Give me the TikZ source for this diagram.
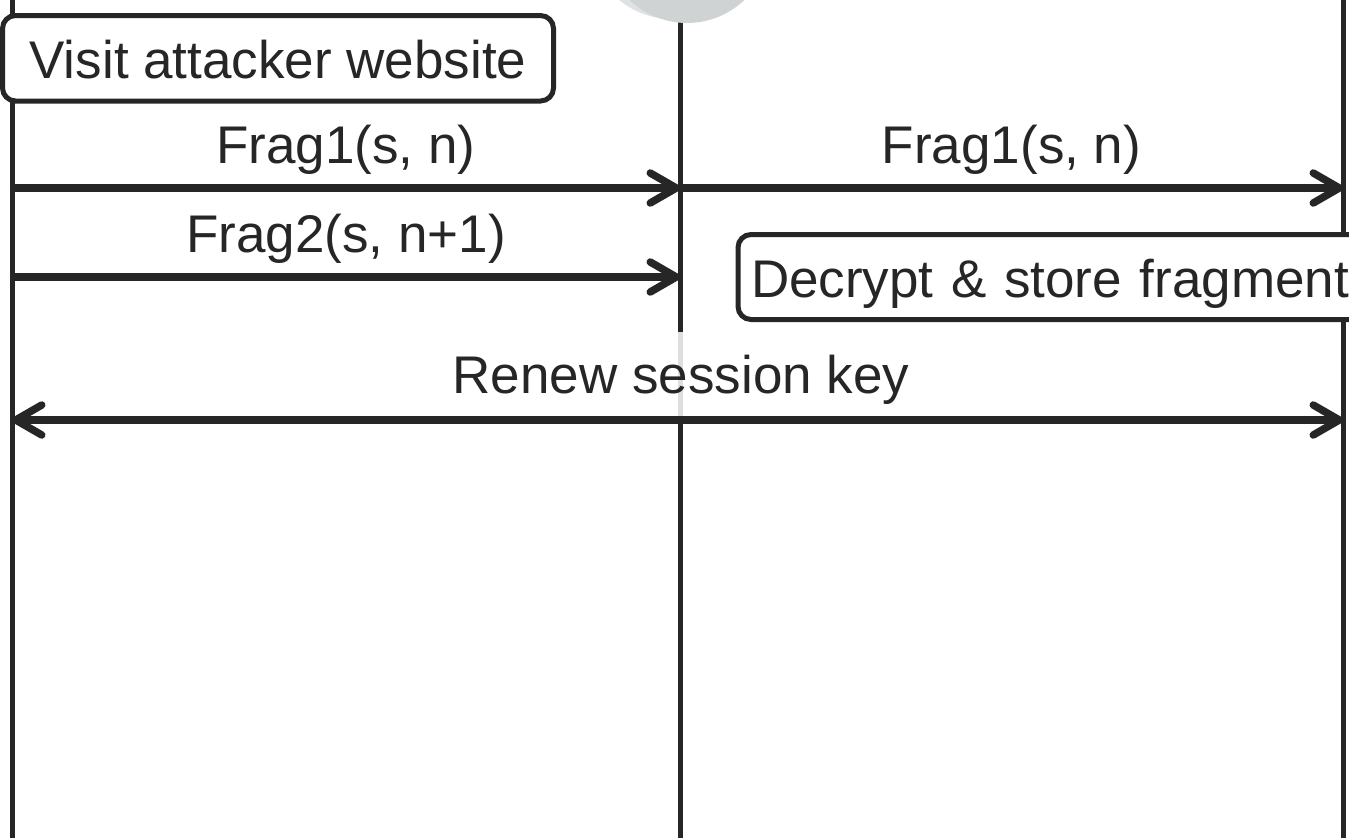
\documentclass[tikz,border=0pt]{standalone}
\usepackage{fontspec}
\setmainfont{Liberation Sans}
\usetikzlibrary{arrows.meta}
\definecolor{ink}{HTML}{262626}
\definecolor{headdark}{HTML}{CFD3D4}
\definecolor{headlight}{HTML}{DFE2E2}
\begin{document}
\begin{tikzpicture}[x=1pt,y=-1pt,
  lifeline/.style={draw=ink,line width=5pt},
  barb/.tip={Straight Barb[length=26pt,width=30pt,round]},
  msg/.style={draw=ink,line width=7.5pt,-barb},
  dmsg/.style={draw=ink,line width=7.5pt,barb-barb},
  txt/.style={text=ink,font=\fontsize{53}{60}\selectfont,inner sep=0pt},
  notebox/.style={txt,draw=ink,line width=5pt,fill=white,rounded corners=13pt,
    outer sep=0pt,text height=40pt,text depth=0pt}
]
\useasboundingbox (0,0) rectangle (1349,838);
\clip (0,0) rectangle (1349,838);
% lifelines
\coordinate (Atop) at (12,0);     \coordinate (Abot) at (12,838);
\coordinate (Btop) at (680,0);    \coordinate (Bbot) at (680,838);
\coordinate (Ctop) at (1343,0);   \coordinate (Cbot) at (1343,838);
\draw[lifeline] (Atop) -- (Abot);
\draw[lifeline] (Btop) -- (Bbot);
\draw[lifeline] (Ctop) -- (Cbot);
% actor head (cropped)
\fill[headlight] (672,-64) circle[radius=83pt];
\fill[headdark] (687,-60) circle[radius=83pt];
% messages
\coordinate (a1) at (12,188);  \coordinate (b1) at (680,188);  \coordinate (c1) at (1343,188);
\coordinate (a2) at (12,277);  \coordinate (b2) at (680,277);
\coordinate (a3) at (12,420);  \coordinate (c3) at (1343,420);
\draw[msg] (a1) -- (b1);
\draw[msg] (b1) -- (c1);
\draw[msg] (a2) -- (b2);
\node[txt,anchor=base] (l1) at (346,163) {Frag1(s, n)};
\node[txt,anchor=base] (l2) at (1011.5,163) {Frag1(s, n)};
\node[txt,anchor=base] (l3) at (346,252) {Frag2(s, n+1)};
% boxes
\node[notebox,anchor=north west,minimum width=551pt,minimum height=85.5pt] (visit) at (2.5,15.5) {Visit attacker website};
\node[notebox,anchor=north west,minimum height=85pt,inner xsep=13pt,text width=660pt,align=left] (decrypt) at (738,234.5) {Decrypt \& store fragment};
% renew
\node[txt,anchor=base,fill=white,fill opacity=0.85,text opacity=1,inner xsep=8pt,text height=61pt,text depth=23pt] (renew) at (681,393) {Renew session key};
\draw[dmsg] (a3) -- (c3);
\end{tikzpicture}
\end{document}
